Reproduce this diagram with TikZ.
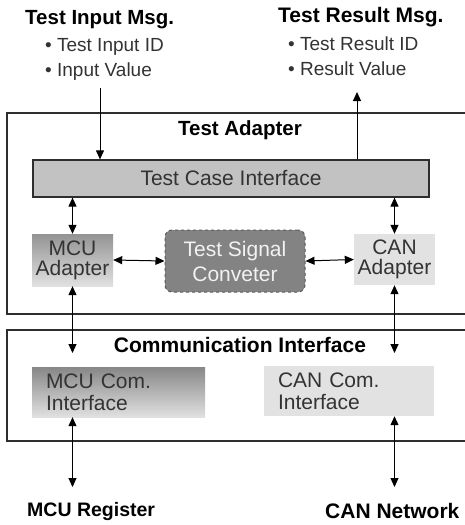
\documentclass[tikz,border=0pt]{standalone}
\usepackage{fontspec}
\setmainfont{Liberation Sans}
\usetikzlibrary{arrows.meta}
\definecolor{framegray}{HTML}{2E2E2E}
\definecolor{tcifill}{HTML}{C2C2C2}
\definecolor{lightbox}{HTML}{E2E2E2}
\definecolor{tscfill}{HTML}{838383}
\definecolor{tscedge}{HTML}{5A5A5A}
\definecolor{boxtext}{HTML}{333333}
\begin{document}
\begin{tikzpicture}[x=1pt,y=-1pt,
  arr/.style={draw=black, line width=1pt, -{Triangle[length=9pt,width=8pt]}},
  darr/.style={draw=black, line width=1pt, {Triangle[length=9pt,width=8pt]}-{Triangle[length=9pt,width=8pt]}},
  heading/.style={font=\fontsize{21}{23}\selectfont\bfseries, inner sep=0pt},
  item/.style={font=\fontsize{19}{21}\selectfont, anchor=west, inner sep=0pt, text=boxtext},
  region/.style={draw=framegray, line width=1.2pt},
  btext/.style={font=\fontsize{21}{21}\selectfont, text=boxtext, align=center, inner sep=0pt},
  combox/.style={font=\fontsize{21}{22}\selectfont, text=boxtext, align=left, inner xsep=14pt, inner ysep=0pt,
    minimum height=50pt, anchor=center}
]
\clip (0,0) rectangle (465,525);
\useasboundingbox (0,0) rectangle (465,525);

% messages above the adapter
\node[heading, anchor=west, font=\fontsize{20.5}{23}\selectfont\bfseries] (inmsg) at (25,20) {Test Input Msg.};
\node[item] (initem1) at (45,47) {• Test Input ID};
\node[item] (initem2) at (45,72) {• Input Value};
\node[heading, anchor=west] (outmsg) at (278,17) {Test Result Msg.};
\node[item] (outitem1) at (288,44) {• Test Result ID};
\node[item] (outitem2) at (288,69) {• Result Value};

% outer regions
\draw[region] (7,113) rectangle (480,314);
\draw[region] (7,330) rectangle (480,441);
\node[heading, font=\fontsize{20.5}{23}\selectfont\bfseries] (talabel) at (240,130) {Test Adapter};
\node[heading] (cilabel) at (240,345) {Communication Interface};

% test adapter contents
\node[draw=framegray, line width=1.2pt, fill=tcifill, minimum width=396pt, minimum height=37pt,
  btext] (tci) at (231,178.5) {Test Case Interface};
\node[top color=black!42, bottom color=black!12, minimum width=81pt, minimum height=52pt,
  btext, font=\fontsize{21}{20}\selectfont] (mcua) at (72.5,260) {MCU\\Adapter};
\node[fill=lightbox, minimum width=81pt, minimum height=51pt,
  btext, font=\fontsize{21}{20}\selectfont] (cana) at (394.5,259.5) {CAN\\Adapter};
\node[draw=tscedge, dashed, line width=1pt, rounded corners=7pt, fill=tscfill,
  minimum width=140pt, minimum height=62pt, btext, text=white!95!black,
  font=\fontsize{21}{25}\selectfont] (tsc) at (235,261) {Test Signal\\Conveter};

% communication interface contents
\node[combox, top color=black!47, bottom color=black!12, text width=145pt] (mcucom) at (118.5,392)
  {MCU Com.\\Interface};
\node[combox, fill=lightbox, text width=142pt] (cancom) at (349,391)
  {CAN Com.\\Interface};

% external ends
\node[heading, anchor=west, font=\fontsize{19.5}{23}\selectfont\bfseries] (mcureg) at (27,511) {MCU Register};
\node[heading, anchor=west] (cannet) at (325,511) {CAN Network};

% connector end points
\coordinate (inTop) at (100,88);
\coordinate (outTop) at (357,92);
\coordinate (mcuTip) at (72.5,353);
\coordinate (canTip) at (394.5,353);
\coordinate (mcuBot) at (72.5,487);
\coordinate (canBot) at (394.5,487);

% connectors
\draw[arr] (inTop) -- (inTop |- tci.north);
\draw[arr] (outTop |- tci.north) -- (outTop);
\draw[darr] (tci.south -| mcua) -- (mcua.north);
\draw[darr] (tci.south -| cana) -- (cana.north);
\draw[darr] (mcua.east) -- (tsc.west);
\draw[darr] (tsc.east) -- (cana.west);
\draw[darr] (mcua.south) -- (mcuTip);
\draw[darr] (cana.south) -- (canTip);
\draw[darr] (mcucom.south -| mcua) -- (mcuBot);
\draw[darr] (cancom.south -| cana) -- (canBot);
\end{tikzpicture}
\end{document}
